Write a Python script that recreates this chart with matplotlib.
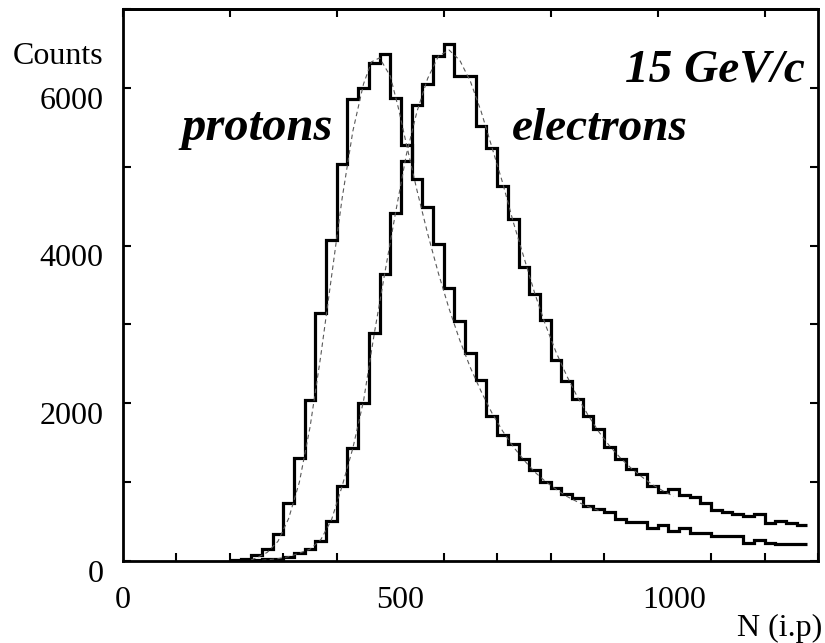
import numpy as np
import matplotlib
matplotlib.use("Agg")
import matplotlib.pyplot as plt
from matplotlib.ticker import MultipleLocator, FixedLocator
from matplotlib.transforms import ScaledTranslation

# histogram binning (number of ionisation products)
bin_lo = 200
bin_width = 20

# counts per bin, protons
protons = [10, 25, 72, 148, 342, 730, 1310, 2038, 3150, 4070,
           5030, 5860, 6000, 6320, 6430, 5870, 5280, 4840, 4485, 4020,
           3460, 3040, 2640, 2300, 1835, 1595, 1480, 1290, 1150, 1000,
           920, 850, 795, 700, 665, 625, 530, 500, 500, 425,
           455, 380, 415, 360, 360, 315, 315, 315, 232, 266,
           232, 210, 210, 210]

# counts per bin, electrons
electrons = [0, 0, 15, 20, 30, 50, 100, 150, 255, 505,
             950, 1430, 2000, 2890, 3645, 4415, 5075, 5780, 6045, 6405,
             6555, 6155, 6150, 5520, 5240, 4750, 4340, 3725, 3380, 3050,
             2555, 2280, 2060, 1840, 1670, 1450, 1300, 1165, 1100, 955,
             877, 907, 835, 806, 730, 646, 624, 595, 570, 595,
             485, 510, 485, 456]

# fitted curves (dashed)
fit_p_x = [240, 250, 270, 290, 310, 330, 350, 370, 390, 410, 430, 450, 465,
           480, 500, 515, 530, 550, 570, 590, 610, 630, 650, 670, 690, 710,
           730, 750, 770, 790, 810, 830, 850, 870, 890]
fit_p_y = [15, 40, 110, 250, 540, 1000, 1700, 2600, 3600, 4600, 5450, 6050, 6330,
           6380, 6150, 5750, 5290, 4700, 4150, 3650, 3200, 2800, 2450, 2150, 1880, 1650,
           1450, 1280, 1130, 1010, 910, 820, 750, 690, 640]
fit_e_x = [260, 270, 290, 310, 330, 350, 370, 390, 410, 430, 450, 470, 490,
           510, 530, 550, 570, 590, 610, 630, 650, 670, 690, 710, 730, 750,
           770, 790, 810, 830, 850, 870, 890, 910, 930, 950, 970, 990, 1010, 1030]
fit_e_y = [8, 15, 30, 55, 100, 150, 270, 520, 950, 1430, 2030, 2880, 3660,
           4420, 5150, 5700, 6120, 6400, 6480, 6350, 6080, 5700, 5250, 4800, 4300, 3850,
           3400, 3000, 2650, 2350, 2080, 1850, 1640, 1460, 1310, 1180, 1070, 970, 890, 820]

edges = bin_lo + bin_width * np.arange(len(protons) + 1)

serif = ["Liberation Serif", "DejaVu Serif"]
plt.rcParams["font.family"] = serif

fig = plt.figure(figsize=(8.25, 6.43), dpi=100)
ax = fig.add_axes([0.149, 0.1275, 0.8425, 0.8585])

ax.plot(fit_p_x, fit_p_y, color="0.35", lw=0.8, dashes=(4, 3))
ax.plot(fit_e_x, fit_e_y, color="0.35", lw=0.8, dashes=(4, 3))
ax.stairs(protons, edges, baseline=None, color="black", lw=2.3)
ax.stairs(electrons, edges, baseline=None, color="black", lw=2.3)

ax.set_xlim(0, 1300)
ax.set_ylim(0, 7000)

for sp in ax.spines.values():
    sp.set_linewidth(2)

ax.xaxis.set_major_locator(FixedLocator([0, 500, 1000]))
ax.xaxis.set_minor_locator(MultipleLocator(100))
ax.yaxis.set_minor_locator(MultipleLocator(1000))
ax.set_yticks([0, 2000, 4000, 6000])
ax.tick_params(axis="both", which="both", direction="in", width=1.5)
ax.tick_params(axis="x", which="major", length=0, pad=18, labelsize=23)
ax.tick_params(axis="x", which="minor", length=6)
ax.tick_params(axis="y", which="both", length=6, right=True, pad=14, labelsize=23)

# top axis carries coarser ticks
top = ax.secondary_xaxis("top")
top.xaxis.set_major_locator(MultipleLocator(200))
top.tick_params(direction="in", length=6, width=1.5, labeltop=False)
top.spines["top"].set_linewidth(2)

# printed labels sit a little off their ticks
for lab in ax.get_yticklabels():
    lab.set_transform(lab.get_transform() + ScaledTranslation(0, -7 / 72, fig.dpi_scale_trans))
for lab, dx in zip(ax.get_xticklabels(), [0, 7, 12]):
    lab.set_transform(lab.get_transform() + ScaledTranslation(dx / 72, 0, fig.dpi_scale_trans))

fig.text(103 / 825, 1 - 57 / 643, "Counts", fontsize=23, ha="right", va="center")
fig.text(822 / 825, 1 - 628 / 643, "N (i.p)", fontsize=23, ha="right", va="center")

ax.text(333 / 825, 1 - 140 / 643, "protons", transform=fig.transFigure, fontsize=35,
        fontweight="bold", fontstyle="italic", ha="right", va="baseline")
ax.text(512 / 825, 1 - 140 / 643, "electrons", transform=fig.transFigure, fontsize=34,
        fontweight="bold", fontstyle="italic", ha="left", va="baseline")
ax.text(805 / 825, 1 - 82 / 643, "15 GeV/c", transform=fig.transFigure, fontsize=34,
        fontweight="bold", fontstyle="italic", ha="right", va="baseline")

fig.savefig("out.png", dpi=100)
